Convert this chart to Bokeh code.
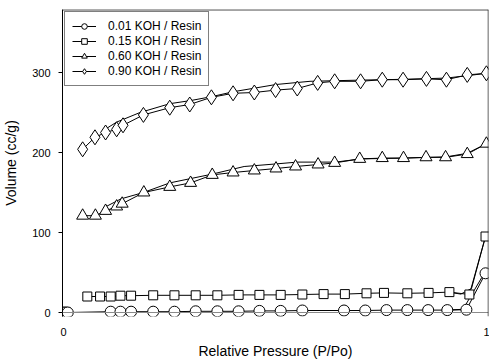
from bokeh.plotting import figure
from bokeh.models import Range1d, Span, Legend, LegendItem, FixedTicker
from bokeh.embed import file_html
from bokeh.resources import INLINE

# ---- data ----
labels = ["0.01 KOH / Resin", "0.15 KOH / Resin", "0.60 KOH / Resin", "0.90 KOH / Resin"]

x_c = [0.000, 0.005, 0.010, 0.111, 0.134, 0.159, 0.211, 0.261, 0.311, 0.362, 0.412,
       0.461, 0.511, 0.562, 0.660, 0.710, 0.760, 0.809, 0.858, 0.903, 0.948, 0.993]
y_c = [0, 0, 0, 1, 1, 1, 1, 1, 1.5, 1.5, 1.5, 2, 2, 2.5, 2.5, 2.5, 3, 3, 3, 3, 3.5, 49]
x_c_des = [0.900, 0.940, 0.990]
y_c_des = [3, 4, 49]

x_s0 = [0.000, 0.006]
y_s0 = [0, 0]
x_s = [0.056, 0.086, 0.111, 0.134, 0.159, 0.211, 0.261, 0.311, 0.362, 0.412, 0.461,
       0.511, 0.562, 0.612, 0.662, 0.713, 0.754, 0.809, 0.859, 0.908, 0.955, 0.993]
y_s = [20, 20, 20, 21, 21, 21.5, 21.5, 21.5, 21.5, 22, 22, 22, 22.5, 23, 23, 24,
       24.5, 24, 24.5, 25.5, 22.5, 95]
x_s_des = [0.900, 0.935, 0.960, 0.993]
y_s_des = [26, 23, 30, 95]

x_t = [0.045, 0.075, 0.099, 0.125, 0.138, 0.189, 0.250, 0.299, 0.350, 0.399, 0.449,
       0.500, 0.546, 0.599, 0.638, 0.697, 0.750, 0.800, 0.853, 0.899, 0.950, 0.995]
y_t = [121, 121, 127, 132.5, 136, 150, 157, 162, 172, 175, 177.5, 180, 182.5, 185,
       187, 192, 193, 193, 194, 194, 198, 211]
x_t_des = [0.095, 0.135, 0.188, 0.250, 0.300, 0.350, 0.425, 0.495, 0.550, 0.640,
           0.700, 0.800, 0.900, 0.950, 0.995]
y_t_des = [131, 142, 150, 162, 167.5, 173, 182.5, 185.5, 188, 188, 192, 193, 194.5, 199, 211]

x_d = [0.045, 0.074, 0.099, 0.125, 0.140, 0.188, 0.250, 0.297, 0.348, 0.399, 0.449,
       0.499, 0.550, 0.598, 0.638, 0.699, 0.750, 0.799, 0.854, 0.901, 0.950, 0.995]
y_d = [204, 219, 225, 229, 234, 247, 256, 260, 269, 274, 275, 278, 280, 287, 289,
       289, 291, 291, 292, 291, 297, 299]
x_d_des = [0.095, 0.125, 0.180, 0.250, 0.300, 0.350, 0.400, 0.500, 0.580, 0.700,
           0.800, 0.900, 0.950, 0.995]
y_d_des = [228, 238, 250, 261, 265, 270, 276, 285, 289, 290.5, 291.5, 293, 296, 299]

x_ticks = [0, 1]
y_ticks = [0, 100, 200, 300]

FONT = "Liberation Sans"

p = figure(width=489, height=361, output_backend="svg", toolbar_location=None,
           x_range=Range1d(-0.0024, 1.0), y_range=Range1d(-5, 378.75),
           min_border_left=62, min_border_right=1, min_border_top=9, min_border_bottom=45)
p.background_fill_color = "white"
p.border_fill_color = "white"
p.outline_line_color = None
p.grid.visible = False

# axes
p.xaxis.ticker = FixedTicker(ticks=x_ticks)
p.yaxis.ticker = FixedTicker(ticks=y_ticks)
p.xaxis.axis_line_color = None
p.xaxis.major_tick_line_color = None
p.xaxis.minor_tick_line_color = None
p.xaxis.major_label_standoff = 5
p.xaxis.axis_label = "Relative Pressure (P/Po)"
p.xaxis.axis_label_standoff = 4
p.yaxis.axis_label = "Volume (cc/g)"
p.yaxis.axis_label_standoff = 10
p.yaxis.axis_line_color = "black"
p.yaxis.major_tick_line_color = "black"
p.yaxis.minor_tick_line_color = None
p.yaxis.major_tick_in = 0
p.yaxis.major_tick_out = 4
p.yaxis.major_label_standoff = 8
for ax in (p.xaxis, p.yaxis):
    ax.major_label_text_font = FONT
    ax.major_label_text_font_size = "11px"
    ax.major_label_text_color = "black"
    ax.axis_label_text_font = FONT
    ax.axis_label_text_font_size = "14px"
    ax.axis_label_text_font_style = "normal"
    ax.axis_label_text_color = "black"

# frame lines
p.add_layout(Span(location=0, dimension="width", line_color="#8a8a8a", line_width=1))
p.add_layout(Span(location=378.3, dimension="width", line_color="black", line_width=1))
p.add_layout(Span(location=0.9995, dimension="height", line_color="black", line_width=1))

LW = 1
# second (desorption) branches
p.line(x_c_des, y_c_des, line_color="black", line_width=LW)
p.line(x_s_des, y_s_des, line_color="black", line_width=LW)
p.line(x_t_des, y_t_des, line_color="black", line_width=LW)
p.line(x_d_des, y_d_des, line_color="black", line_width=LW)

# main branches
lc = p.line(x_c, y_c, line_color="black", line_width=LW)
ls = p.line(x_s, y_s, line_color="black", line_width=LW)
lt = p.line(x_t, y_t, line_color="black", line_width=LW)
ld = p.line(x_d, y_d, line_color="black", line_width=LW)

mk = dict(fill_color="white", line_color="black", line_width=1)
p.scatter(x_s0, y_s0, marker="square", size=9, **mk)
mc = p.scatter(x_c, y_c, marker="circle", size=11, **mk)
ms = p.scatter(x_s, y_s, marker="square", size=9, **mk)
mt = p.scatter(x_t, y_t, marker="triangle", size=12, **mk)
md = p.scatter(x_d, y_d, marker="diamond", size=15, **mk)

legend = Legend(items=[
    LegendItem(label=labels[0], renderers=[lc, mc]),
    LegendItem(label=labels[1], renderers=[ls, ms]),
    LegendItem(label=labels[2], renderers=[lt, mt]),
    LegendItem(label=labels[3], renderers=[ld, md]),
], location="top_left")
legend.margin = 2
legend.padding = 7
legend.spacing = 1
legend.glyph_width = 24
legend.glyph_height = 14
legend.label_height = 14
legend.label_standoff = 12
legend.label_text_font = FONT
legend.label_text_font_size = "12px"
legend.label_text_color = "black"
legend.border_line_color = "black"
legend.border_line_width = 1
legend.background_fill_color = "white"
legend.background_fill_alpha = 1
p.add_layout(legend)

open("out.html", "w").write(file_html(p, INLINE))
